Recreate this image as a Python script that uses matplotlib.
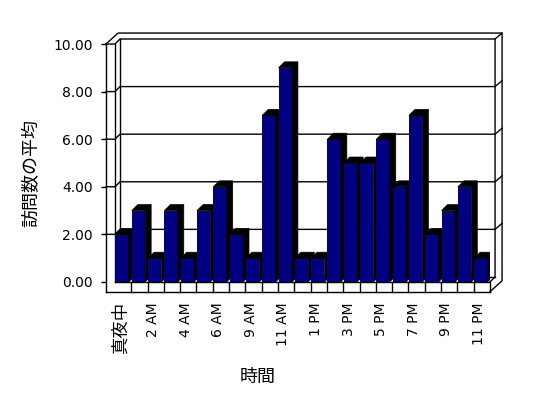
import matplotlib
matplotlib.use('Agg')
import matplotlib.pyplot as plt
from matplotlib.patches import Polygon
from matplotlib.ticker import FormatStrFormatter

plt.rcParams['font.family'] = ['DejaVu Sans', 'Noto Sans CJK JP']

# data
hours = ['真夜中', '1 AM', '2 AM', '3 AM', '4 AM', '5 AM', '6 AM', '8 AM',
         '9 AM', '10 AM', '11 AM', '12 PM', '1 PM', '2 PM', '3 PM', '4 PM',
         '5 PM', '6 PM', '7 PM', '8 PM', '9 PM', '10 PM', '11 PM']
visits = [2, 3, 1, 3, 1, 3, 4, 2, 1, 7, 9, 1, 1, 6, 5, 5, 6, 4, 7, 2, 3, 4, 1]
yticks = [0, 2, 4, 6, 8, 10]

n = len(hours)
ymax = 10
W, H = 548, 398

# 3d look, in data units
wall = 0.55            # left wall thickness
floor = 0.41           # floor thickness
bx, by = 0.31, 0.21    # back wall (inner face) offset
ox, oy = 0.74, 0.46    # back wall (outer face) offset
dx, dy = 0.37, 0.25    # bar depth
bar_w = 0.82

fig = plt.figure(figsize=(W / 100, H / 100), dpi=100)
ax = fig.add_axes([106 / W, (H - 291.7) / H, (490 - 106) / W, (291.7 - 44) / H])
ax.set_xlim(-wall, n)
ax.set_ylim(-floor, ymax)

for s in ['top', 'right']:
    ax.spines[s].set_visible(False)
for s in ['left', 'bottom']:
    ax.spines[s].set_linewidth(1)

def line(pts, z=1):
    xs = [p[0] for p in pts]
    ys = [p[1] for p in pts]
    ax.plot(xs, ys, color='black', lw=1, clip_on=False, zorder=z,
            solid_joinstyle='miter')

# walls and floor
line([(-wall, ymax), (-wall + ox, ymax + oy), (n + ox, ymax + oy),
      (n + ox, -floor + oy), (n, -floor)])
line([(-wall, ymax), (0, ymax), (bx, ymax + by), (n + bx, ymax + by),
      (n + bx, by), (n, 0)])
line([(n + bx, ymax + by), (n + ox, ymax + oy)])
line([(0, ymax), (0, 0)])
line([(bx, ymax + by), (bx, by), (n + bx, by)])
line([(0, 0), (n, 0), (n, -floor)], z=50)
for i in range(1, n):
    line([(i, 0), (i, -floor)], z=50)

# gridlines
for v in yticks[1:-1]:
    line([(-wall, v), (0, v), (bx, v + by), (n + bx, v + by),
          (n + ox, v + oy)])

# bars
for i, v in enumerate(visits):
    x0 = i + 0.03
    x1 = x0 + bar_w
    z = 3 + i * 0.1
    ax.bar(x0, v, width=bar_w, align='edge', color='#000080', lw=0, zorder=z)
    side = Polygon([(x1, 0), (x1 + dx, dy), (x1 + dx, v + dy), (x1, v)],
                   closed=True, facecolor='black', edgecolor='black', lw=0.5,
                   zorder=z)
    top = Polygon([(x0, v), (x0 + dx, v + dy), (x1 + dx, v + dy), (x1, v)],
                  closed=True, facecolor='black', edgecolor='black', lw=0.5,
                  zorder=z)
    ax.add_patch(side)
    ax.add_patch(top)

# axes text
ax.set_yticks(yticks)
ax.yaxis.set_major_formatter(FormatStrFormatter('%.2f'))
ax.tick_params(axis='y', direction='out', length=3.6, width=1, pad=6,
               labelsize=10)
ax.set_xticks([i + 0.33 for i in range(0, n, 2)])
ax.set_xticklabels(hours[::2], rotation=90, va='top', ha='center')
ax.tick_params(axis='x', length=0, pad=7.5, labelsize=10)
first = ax.get_xticklabels()[0]
first.set_fontsize(12.5)
first.set_family(['Noto Sans CJK JP', 'DejaVu Sans'])

fig.text(31.7 / W, 1 - 173 / H, '訪問数の平均', rotation=90, ha='center',
         va='center', fontsize=13, family=['Noto Sans CJK JP', 'DejaVu Sans'])
fig.text(258 / W, 1 - 377 / H, '時間', ha='center', va='center',
         fontsize=13, family=['Noto Sans CJK JP', 'DejaVu Sans'])

fig.savefig('out.png', dpi=100, facecolor='white')
